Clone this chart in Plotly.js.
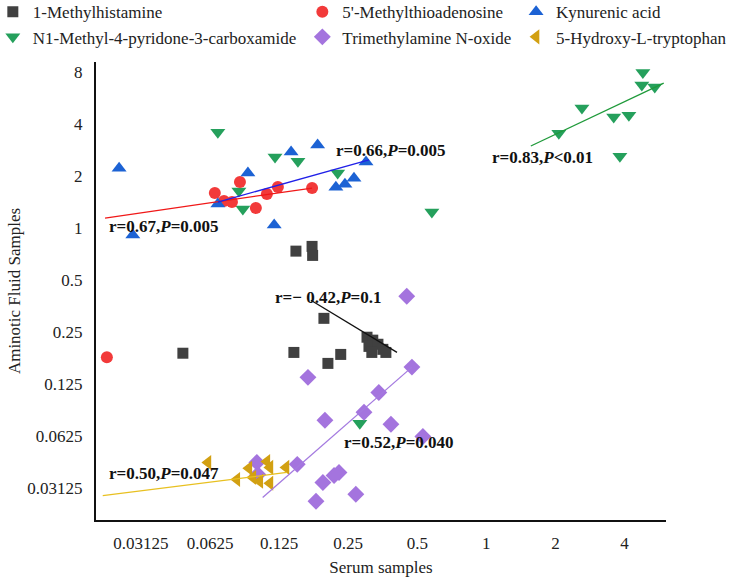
<!DOCTYPE html>
<html><head><meta charset="utf-8">
<script src="https://cdn.plot.ly/plotly-3.0.1.min.js"></script>
<style>html,body{margin:0;padding:0;background:#fff}#chart{width:738px;height:584px}</style>
</head><body><div id="chart"></div>
<script>
// Tick labels
const xTickVals = [0.03125, 0.0625, 0.125, 0.25, 0.5, 1, 2, 4];
const xTickText = ['0.03125', '0.0625', '0.125', '0.25', '0.5', '1', '2', '4'];
const yTickVals = [0.03125, 0.0625, 0.125, 0.25, 0.5, 1, 2, 4, 8];
const yTickText = ['0.03125', '0.0625', '0.125', '0.25', '0.5', '1', '2', '4', '8'];

// 1-Methylhistamine
const mhSerum = [0.0476, 0.145, 0.148, 0.174, 0.175, 0.196, 0.204, 0.232, 0.302, 0.320, 0.308, 0.337, 0.354, 0.317, 0.365];
const mhFluid = [0.189, 0.191, 0.738, 0.786, 0.697, 0.301, 0.165, 0.186, 0.234, 0.225, 0.207, 0.213, 0.199, 0.191, 0.191];
const mhFitX = [0.172, 0.408];
const mhFitY = [0.383, 0.191];

// 5'-Methylthioadenosine
const mtaSerum = [0.0222, 0.0656, 0.0844, 0.0719, 0.0779, 0.0990, 0.1106, 0.1235, 0.174];
const mtaFluid = [0.179, 1.602, 1.856, 1.440, 1.421, 1.311, 1.581, 1.736, 1.713];
const mtaFitX = [0.0218, 0.174];
const mtaFitY = [1.147, 1.713];

// Kynurenic acid
const kaSerum = [0.0251, 0.0288, 0.0676, 0.0914, 0.119, 0.141, 0.184, 0.221, 0.242, 0.265, 0.299];
const kaFluid = [2.23, 0.915, 1.383, 2.09, 1.045, 2.77, 3.04, 1.73, 1.80, 1.95, 2.42];
const kaFitX = [0.0676, 0.308];
const kaFitY = [1.421, 2.49];

// N1-Methyl-4-pyridone-3-carboxamide
const npSerum = [4.81, 4.76, 5.42, 2.61, 3.59, 4.18, 2.07, 3.82, 0.0676, 0.120, 0.151, 0.0835, 0.0869, 0.225, 0.579, 0.281];
const npFluid = [8.0, 6.77, 6.59, 4.98, 4.42, 4.53, 3.56, 2.62, 3.61, 2.59, 2.45, 1.646, 1.294, 2.09, 1.243, 0.0742];
const npFitX = [1.563, 5.93];
const npFitY = [3.00, 6.95];

// Trimethylamine N-oxide
const tmaoSerum = [0.450, 0.167, 0.474, 0.340, 0.293, 0.198, 0.384, 0.529, 0.100, 0.150, 0.101, 0.194, 0.217, 0.228, 0.270, 0.181];
const tmaoFluid = [0.404, 0.137, 0.157, 0.112, 0.0859, 0.0772, 0.0732, 0.0622, 0.0440, 0.0429, 0.0375, 0.0337, 0.0370, 0.0385, 0.0288, 0.0262];
const tmaoFitX = [0.106, 0.474];
const tmaoFitY = [0.0276, 0.157];

// 5-Hydroxy-L-tryptophan
const htpSerum = [0.0612, 0.0923, 0.1106, 0.114, 0.134, 0.0818, 0.0961, 0.103, 0.114];
const htpFluid = [0.0440, 0.0407, 0.0446, 0.0412, 0.0412, 0.0351, 0.0360, 0.0342, 0.0333];
const htpFitX = [0.0213, 0.135];
const htpFitY = [0.0283, 0.0385];

// Correlation labels
const labelText = ['r=0.67,<i>P</i>=0.005', 'r=0.66,<i>P</i>=0.005', 'r=0.83,<i>P</i>&lt;0.01',
                   'r=\u2212 0.42,<i>P</i>=0.1', 'r=0.52,<i>P</i>=0.040', 'r=0.50,<i>P</i>=0.047'];
const labelX = [0.0222, 0.217, 1.036, 0.117, 0.235, 0.0222];
const labelY = [1.02, 2.84, 2.56, 0.399, 0.0575, 0.0380];

const FONT = 'Liberation Serif, Times New Roman, serif';
const C = {
  mh: '#404040', mta: '#f23a3a', ka: '#1c62d4', np: '#25a05c', tmao: '#a474de', htp: '#d2a012'
};

function pts(name, x, y, symbol, color, size, legend) {
  return {type: 'scatter', mode: 'markers', name: name, x: x, y: y, legend: legend,
    marker: {symbol: symbol, color: color, size: size, line: {width: 0}}, cliponaxis: false};
}
function fit(x, y, color) {
  return {type: 'scatter', mode: 'lines', x: x, y: y, showlegend: false, hoverinfo: 'skip',
    line: {color: color, width: 1.3}};
}

const data = [
  pts('1-Methylhistamine', mhSerum, mhFluid, 'square', C.mh, 11, 'legend'),
  pts('N1-Methyl-4-pyridone-3-carboxamide', npSerum, npFluid, 'triangle-down', C.np, 13, 'legend'),
  pts("5'-Methylthioadenosine", mtaSerum, mtaFluid, 'circle', C.mta, 12, 'legend2'),
  pts('Trimethylamine N-oxide', tmaoSerum, tmaoFluid, 'diamond', C.tmao, 13, 'legend2'),
  pts('Kynurenic acid', kaSerum, kaFluid, 'triangle-up', C.ka, 13, 'legend3'),
  pts('5-Hydroxy-L-tryptophan', htpSerum, htpFluid, 'triangle-left', C.htp, 13, 'legend3'),
  fit(mhFitX, mhFitY, '#111111'),
  fit(mtaFitX, mtaFitY, '#f01818'),
  fit(kaFitX, kaFitY, '#2020e8'),
  fit(npFitX, npFitY, '#1f9a3a'),
  fit(tmaoFitX, tmaoFitY, '#a47ae0'),
  fit(htpFitX, htpFitY, '#e8c020')
];

const annotations = labelText.map((t, i) => ({
  x: Math.log10(labelX[i]), y: Math.log10(labelY[i]), xref: 'x', yref: 'y',
  text: '<b>' + t + '</b>', showarrow: false, xanchor: 'left', yanchor: 'middle',
  font: {family: FONT, size: 17, color: '#111'}
}));

const legendBase = {orientation: 'v', yanchor: 'top', xanchor: 'left', y: 1.148,
  font: {family: FONT, size: 17, color: '#222'}, bgcolor: 'rgba(0,0,0,0)', tracegroupgap: 0, itemwidth: 30};

const layout = {
  width: 738, height: 584,
  margin: {l: 96, r: 72, t: 62, b: 64, autoexpand: false},
  paper_bgcolor: '#fff', plot_bgcolor: '#fff',
  font: {family: FONT, size: 17, color: '#222'},
  showlegend: true,
  legend: Object.assign({}, legendBase, {x: -0.181}),
  legend2: Object.assign({}, legendBase, {x: 0.362}),
  legend3: Object.assign({}, legendBase, {x: 0.737}),
  xaxis: {
    type: 'log', range: [-1.701, 0.783], tickmode: 'array', tickvals: xTickVals, ticktext: xTickText,
    showgrid: false, zeroline: false, showline: true, linecolor: '#111', linewidth: 2,
    ticks: '', ticklabelstandoff: 7, tickfont: {family: FONT, size: 17, color: '#222'},
    title: {text: 'Serum samples', font: {family: FONT, size: 17, color: '#222'}, standoff: 9}
  },
  yaxis: {
    type: 'log', range: [-1.690, 0.964], tickmode: 'array', tickvals: yTickVals, ticktext: yTickText,
    showgrid: false, zeroline: false, showline: true, linecolor: '#111', linewidth: 2,
    ticks: '', ticklabelstandoff: 8, tickfont: {family: FONT, size: 17, color: '#222'},
    title: {text: 'Aminotic Fluid Samples', font: {family: FONT, size: 17, color: '#222'}, standoff: 2}
  },
  annotations: annotations
};

Plotly.newPlot('chart', data, layout, {displayModeBar: false, staticPlot: true});
</script>
</body></html>
